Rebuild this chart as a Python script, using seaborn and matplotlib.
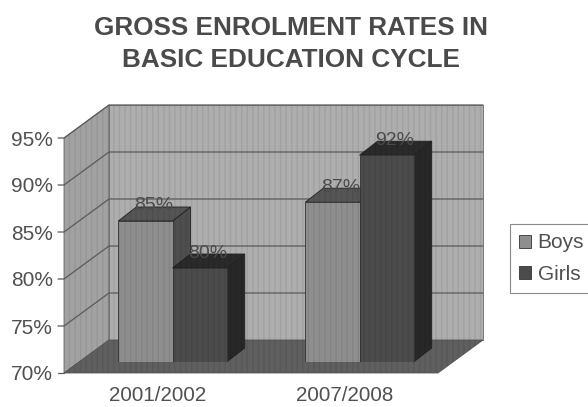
#faux 3D grouped bars, grey scan look
import seaborn as sns
import matplotlib.pyplot as plt
import matplotlib.transforms as mtrans
import pandas as pd
from matplotlib.patches import Polygon

years = ['2001/2002', '2007/2008']
boys = [85, 87]
girls = [80, 92]
y_ticks = [70, 75, 80, 85, 90, 95]
y_tick_labels = ['70%', '75%', '80%', '85%', '90%', '95%']

df = pd.DataFrame({
    'year': years + years,
    'rate': boys + girls,
    'sex': ['Boys'] * 2 + ['Girls'] * 2,
})

sns.set_theme(style='white')
plt.rcParams['font.family'] = ['Liberation Sans', 'DejaVu Sans']
plt.rcParams['hatch.linewidth'] = 1.0

W, H = 588, 407
fig = plt.figure(figsize=(W / 100, H / 100), dpi=100)
# axes sit on the plane of the bar fronts
L, R, BOT, TOP = 79, 453, 362, 127
ax = fig.add_axes([L / W, 1 - BOT / H, (R - L) / W, (BOT - TOP) / H])

sns.barplot(data=df, x='year', y='rate', hue='sex',
            palette={'Boys': '#8e8e8e', 'Girls': '#4b4b4b'},
            width=0.58, saturation=1, ax=ax)
ax.set_xlim(-0.5, 1.5)
ax.set_ylim(70, 95)
ax.set_xlabel('')
ax.set_ylabel('')
sns.despine(ax=ax, left=True, bottom=True)
ax.patch.set_alpha(0)

px_x = 2 / (R - L)
px_y = 25 / (BOT - TOP)


def shifted(x, y, dx=0, dy=0):
    # dx, dy are pixels, dy upward
    return (x + dx * px_x, y + dy * px_y)


def stripes(points, z):
    # the scan's vertical halftone stripes
    ax.add_patch(Polygon(points, closed=True, facecolor='none', edgecolor='black',
                         hatch='|||', lw=0, alpha=0.07, zorder=z, clip_on=False))


def face(points, color, z, edge='#4a4a4a', lw=0.6):
    ax.add_patch(Polygon(points, closed=True, facecolor=color, edgecolor=edge, lw=lw,
                         zorder=z, clip_on=False))
    stripes(points, z)


x0, x1 = -0.5, 1.5
front = (-15, -11)
back = (30, 22)

# bars come from seaborn, grab them before the walls are added
bars = sorted([p for c in ax.containers for p in c], key=lambda p: p.get_x())

# back wall, side wall, floor
face([shifted(x0, 70, *back), shifted(x1, 70, *back), shifted(x1, 95, *back), shifted(x0, 95, *back)],
     '#aeaeae', 0.5, edge='#6a6a6a')
face([shifted(x0, 70, *front), shifted(x0, 70, *back), shifted(x0, 95, *back), shifted(x0, 95, *front)],
     '#a2a2a2', 0.5, edge='#6a6a6a')
face([shifted(x0, 70, *front), shifted(x1, 70, *front), shifted(x1, 70, *back), shifted(x0, 70, *back)],
     '#5f5f5f', 0.7, edge='#555555')

# gridlines run up the side wall and along the back, with a short stub at the tick
for v in y_ticks[1:]:
    xs, ys = zip(shifted(x0, v, front[0] - 6, front[1]), shifted(x0, v, *front),
                 shifted(x0, v, *back), shifted(x1, v, *back))
    ax.plot(xs, ys, color='#5a5a5a', lw=0.9, zorder=1, clip_on=False)
xs, ys = zip(shifted(x0, 70, front[0] - 6, front[1]), shifted(x0, 70, *front))
ax.plot(xs, ys, color='#5a5a5a', lw=0.9, zorder=1, clip_on=False)

# bar sides and tops
shades = {'#8e8e8e': ('#555555', '#4e4e4e'), '#4b4b4b': ('#2a2a2a', '#272727')}
depth = (18, 14)
for i, bar in enumerate(bars):
    z = 3 + i
    xa, xb, top = bar.get_x(), bar.get_x() + bar.get_width(), bar.get_height()
    base = '#%02x%02x%02x' % tuple(int(c * 255 + 0.5) for c in bar.get_facecolor()[:3])
    top_col, side_col = shades[base]
    face([(xb, 70), shifted(xb, 70, *depth), shifted(xb, top, *depth), (xb, top)], side_col, z, edge='#222222')
    face([(xa, top), (xb, top), shifted(xb, top, *depth), shifted(xa, top, *depth)], top_col, z, edge='#222222')
    bar.set_zorder(z + 0.2)
    bar.set_edgecolor('#333333')
    bar.set_linewidth(0.6)
    stripes([(xa, 70), (xb, 70), (xb, top), (xa, top)], z + 0.3)
    ax.text(*shifted((xa + xb) / 2, top, 8, 15), '%d%%' % top, ha='center', va='center',
            fontsize=14, color='#4a4a4a', zorder=z + 0.1)

ax.set_yticks(y_ticks)
ax.set_yticklabels(y_tick_labels)
ax.tick_params(axis='both', length=0, labelcolor='#505050')
ax.tick_params(axis='y', labelsize=15, pad=8)
ax.tick_params(axis='x', labelsize=14.8, pad=9.5)
# labels belong to the front plane, not the bar plane
offset = mtrans.ScaledTranslation(front[0] / 100, front[1] / 100, fig.dpi_scale_trans)
for lab in ax.get_yticklabels():
    lab.set_transform(lab.get_transform() + offset)
for lab in ax.get_xticklabels():
    lab.set_transform(lab.get_transform() + offset)

handles, labels = ax.get_legend_handles_labels()
leg = ax.legend(handles, labels, loc='upper left', bbox_to_anchor=(510 / W, 1 - 224 / H),
                bbox_transform=fig.transFigure, borderaxespad=0, fontsize=15,
                handlelength=0.58, handleheight=0.58, handletextpad=0.3, labelspacing=0.6,
                borderpad=0.45, frameon=True, fancybox=False, edgecolor='#8a8a8a', framealpha=1)
leg.get_frame().set_linewidth(0.8)
for t in leg.get_texts():
    t.set_color('#505050')
for h in leg.legend_handles:
    h.set_edgecolor('#333333')
    h.set_linewidth(0.6)

fig.text(291 / W, 1 - 44 / H, 'GROSS ENROLMENT RATES IN\nBASIC EDUCATION CYCLE', ha='center', va='center',
         fontsize=18.8, fontweight='bold', color='#4a4a4a', linespacing=1.39)

plt.savefig('out.png', dpi=100)
